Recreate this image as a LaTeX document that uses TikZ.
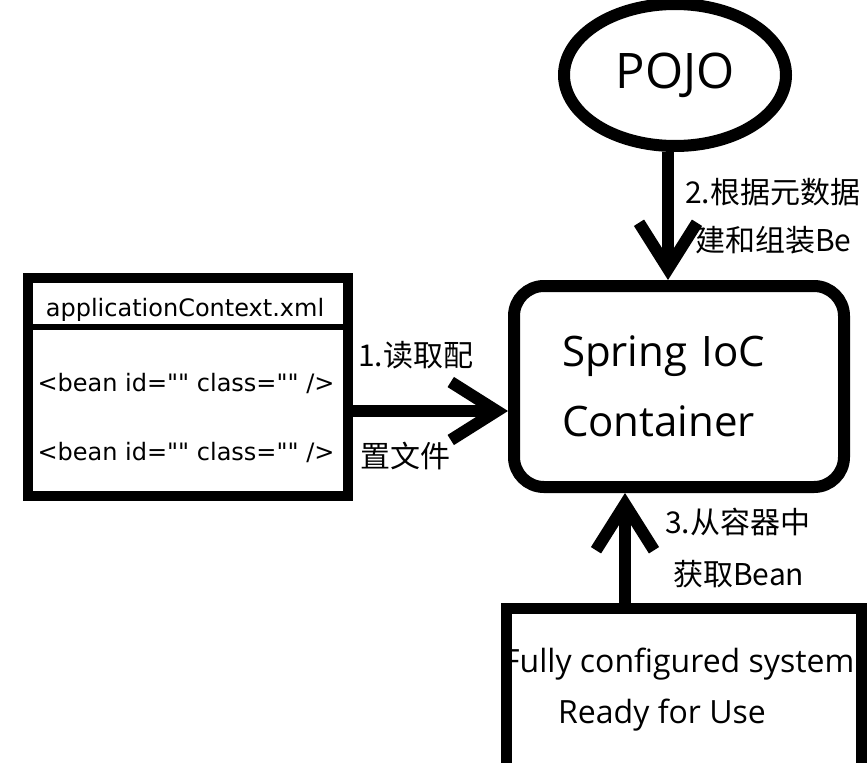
\documentclass[tikz,border=0pt]{standalone}
\usepackage{fontspec}
\setmainfont{Open Sans}
\newfontfamily\cjk{Noto Sans CJK SC}
\newfontfamily\dvs{DejaVu Sans}
\usetikzlibrary{shapes.geometric,arrows.meta,calc}
\begin{document}
\begin{tikzpicture}[x=1pt,y=-1pt,
  conn/.style={line width=12pt,-{Straight Barb[length=46pt,width=58pt]}},
  lbl/.style={font=\cjk\fontsize{30}{30}\selectfont,anchor=west,inner sep=0pt},
  xmltxt/.style={font=\dvs\fontsize{24}{24}\selectfont,inner sep=0pt},
  systxt/.style={font=\fontsize{32}{32}\selectfont,anchor=base west,inner sep=0pt}]
\useasboundingbox (0,0) rectangle (868,763);
\clip (0,0) rectangle (868,763);
\fill[white] (0,0) rectangle (868,763);

% POJO
\node[ellipse,draw,line width=12pt,minimum width=222pt,minimum height=142pt,inner sep=0pt,
  font=\fontsize{49}{49}\selectfont] (pojo) at (675,75) {POJO};

% container
\node[draw,line width=12pt,rounded corners=30pt,minimum width=330pt,minimum height=201pt,
  text width=234pt,align=left,inner sep=0pt,font=\fontsize{42}{70}\selectfont] (container) at (679,386.5)
  {Spring IoC\\Container};

% xml box
\node[draw,line width=10pt,minimum width=320pt,minimum height=218pt] (xml) at (188,387) {};
\draw[line width=6pt] ($(xml.north west)+(5,54)$) -- ($(xml.north east)+(-5,54)$);
\node[xmltxt] (xmltitle) at (185,310) {applicationContext.xml};
\node[xmltxt] (bean1) at (186,383) {<bean id="" class="" />};
\node[xmltxt] (bean2) at (186,452) {<bean id="" class="" />};

% system box
\node[draw,fill=white,line width=11pt,minimum width=355pt,minimum height=300pt] (sys) at (683.5,758) {};
\begin{scope}
  \clip ($(sys.north west)+(11,11)$) rectangle ($(sys.south east)+(-11,-11)$);
  \node[systxt] (sys1) at (503,672) {Fully configured system};
  \node[systxt] (sys2) at (558,723) {Ready for Use};
\end{scope}

% connectors
\coordinate (s1) at ([yshift=-24pt]xml.east);
\draw[conn] (s1) -- (s1 -| container.west);
\coordinate (s2) at ([xshift=-7pt]pojo.south);
\draw[conn] (s2) -- (s2 |- container.north);
\coordinate (s3) at ([xshift=-54pt]container.south);
\draw[conn] (s3 |- sys.north) -- (s3);

% labels
\node[lbl] (l1a) at (358,355) {1.读取配};
\node[lbl] (l1b) at (360,456) {置文件};
\node[lbl] (l2a) at (685,192) {2.根据元数据};
\node[lbl] (l2b) at (695,240) {建和组装Be};
\node[lbl] (l3a) at (665,522) {3.从容器中};
\node[lbl] (l3b) at (673,574) {获取Bean};
\end{tikzpicture}
\end{document}
